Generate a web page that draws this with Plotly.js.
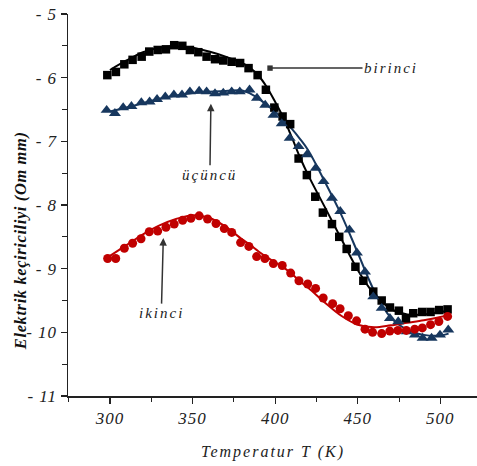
<!DOCTYPE html>
<html>
<head>
<meta charset="utf-8">
<script src="https://cdn.plot.ly/plotly-3.0.1.min.js"></script>
<style>
html,body{margin:0;padding:0;background:#fff;}
#chart{width:477px;height:466px;}
.annotation-text{letter-spacing:2px;}
.annotation[data-index="4"] .annotation-text{letter-spacing:0.6px;}
.xtick text,.ytick text{letter-spacing:1px;}
</style>
</head>
<body>
<div id="chart"></div>
<script>
// ---- data ----
const birinciT = [298.4,303.6,308.7,313.7,319.2,323.8,328.9,333.9,338.9,343.8,348.4,353.5,358.5,363.6,368.6,373.7,378.8,383.9,389.4,394.4,399.5,404.5,409.1,414.2,419.2,424.3,428.9,434.4,438.8,443.3,448.6,453.4,459.4,464.5,469.5,474.9,479.2,483.6,489.0,494.1,499.3,504.4];
const birinciY = [-5.96,-5.91,-5.79,-5.72,-5.67,-5.59,-5.565,-5.555,-5.49,-5.50,-5.565,-5.60,-5.67,-5.71,-5.73,-5.75,-5.77,-5.85,-5.96,-6.19,-6.47,-6.61,-6.73,-7.27,-7.53,-7.87,-8.12,-8.30,-8.50,-8.69,-8.97,-9.19,-9.36,-9.50,-9.61,-9.66,-9.78,-9.70,-9.68,-9.68,-9.65,-9.64];

const ucuncuT = [298,303,308,313,319,324,328.5,333.5,338.7,343.6,348.4,354,358.5,363.6,368.6,373.7,378.6,384.5,389,394,399,404,408.8,414.2,419.2,424.6,429.3,434.4,439.4,445,449.5,454.4,459.4,464.5,469.5,474.5,479.6,484.6,489.3,494.7,499.8,504.8];
const ucuncuY = [-6.51,-6.56,-6.47,-6.45,-6.39,-6.38,-6.34,-6.30,-6.27,-6.27,-6.22,-6.21,-6.22,-6.25,-6.24,-6.22,-6.22,-6.19,-6.32,-6.43,-6.59,-6.72,-6.95,-7.08,-7.21,-7.42,-7.63,-7.89,-8.10,-8.39,-8.75,-9.05,-9.44,-9.62,-9.78,-9.83,-9.99,-10.04,-10.09,-10.09,-10.04,-9.96];

const ikinciT = [298.6,303.5,308.7,313.7,318.8,323.8,328.9,333.9,338.9,344,349,354,359.1,364.2,369.2,373.7,379.1,384.1,388.8,393.8,398.9,404.3,409.4,414.4,419.7,424.5,429.1,434.8,439.3,444.3,449.3,454.4,459,464.5,469.4,474.3,479.4,484.5,489.1,494.1,499.1,504.4];
const ikinciY = [-8.84,-8.84,-8.68,-8.60,-8.53,-8.42,-8.41,-8.35,-8.30,-8.24,-8.21,-8.17,-8.22,-8.29,-8.37,-8.43,-8.59,-8.65,-8.81,-8.84,-8.92,-8.95,-9.07,-9.19,-9.24,-9.31,-9.46,-9.55,-9.63,-9.74,-9.82,-9.95,-10.0,-10.02,-9.98,-9.97,-9.97,-9.95,-9.93,-9.88,-9.83,-9.75];

// fitted curves
const fitT = [300,310,320,330,340,350,360,370,380,385,390,395,400,405,410,415,420,430,440,450,460,470,480,490,500,505];
const fitBirinci = [-5.88,-5.73,-5.6,-5.53,-5.51,-5.53,-5.59,-5.67,-5.77,-5.85,-5.97,-6.15,-6.38,-6.63,-6.93,-7.25,-7.53,-8.03,-8.53,-9.02,-9.4,-9.63,-9.72,-9.72,-9.68,-9.66];
const fitUcuncu = [-6.53,-6.47,-6.40,-6.33,-6.28,-6.24,-6.22,-6.21,-6.20,-6.25,-6.33,-6.43,-6.53,-6.66,-6.80,-6.96,-7.14,-7.63,-8.15,-8.75,-9.35,-9.77,-9.96,-10.04,-10.05,-10.02];
const fitIkinci = [-8.8,-8.63,-8.46,-8.32,-8.22,-8.16,-8.2,-8.34,-8.54,-8.63,-8.73,-8.82,-8.9,-8.98,-9.08,-9.2,-9.3,-9.53,-9.74,-9.88,-9.92,-9.89,-9.85,-9.81,-9.76,-9.73];

const yTickVals = [-11,-10,-9,-8,-7,-6,-5];
const yTickText = ['- 11','- 10','- 9','- 8','- 7','- 6','- 5'];
const xTickVals = [300,350,400,450,500];
const xTickText = ['300','350','400','450','500'];

const seriesLabels = ['birinci','ikinci','üçüncü'];
const xTitle = 'Temperatur T (K)';
const yTitle = 'Elektrik keçiriciliyi (Om mm)';

// ---- styles ----
const cBlack = '#000000', cBlue = '#17375E', cRed = '#C00000';
const tickFont = {family:'Liberation Serif, serif', size:17, color:'#222', style:'italic'};

const traces = [
  {x:fitT, y:fitBirinci, mode:'lines', line:{color:cBlack,width:2,shape:'spline'}, hoverinfo:'skip'},
  {x:fitT, y:fitUcuncu, mode:'lines', line:{color:cBlue,width:2,shape:'spline'}, hoverinfo:'skip'},
  {x:fitT, y:fitIkinci, mode:'lines', line:{color:cRed,width:2,shape:'spline'}, hoverinfo:'skip'},
  {x:birinciT, y:birinciY, mode:'markers', name:seriesLabels[0], marker:{symbol:'square',size:8.5,color:cBlack}},
  {x:ucuncuT, y:ucuncuY, mode:'markers', name:seriesLabels[2], marker:{symbol:'triangle-up',size:10.5,color:cBlue}},
  {x:ikinciT, y:ikinciY, mode:'markers', name:seriesLabels[1], marker:{symbol:'circle',size:9,color:cRed}}
];

const annFont = {family:'Liberation Serif, serif', size:15, color:'#222', style:'italic'};
const layout = {
  width:477, height:466,
  margin:{l:68, r:0, t:14, b:70},
  paper_bgcolor:'#fff', plot_bgcolor:'#fff',
  showlegend:false,
  xaxis:{
    range:[274.6,522.2], showgrid:false, zeroline:false,
    showline:true, linecolor:'#222', linewidth:1.5,
    ticks:'outside', ticklen:6, tickwidth:1.2, tickcolor:'#222',
    tickvals:xTickVals, ticktext:xTickText, tickfont:tickFont,
    minor:{dtick:25, tick0:275, ticks:'outside', ticklen:4, tickcolor:'#222', tickwidth:1},
    fixedrange:true
  },
  yaxis:{
    range:[-11,-5], showgrid:false, zeroline:false,
    showline:true, linecolor:'#222', linewidth:1.5,
    ticks:'outside', ticklen:6, tickwidth:1.2, tickcolor:'#222',
    tickvals:yTickVals, ticktext:yTickText, tickfont:tickFont,
    minor:{dtick:0.5, tick0:-11, ticks:'outside', ticklen:5, tickcolor:'#222', tickwidth:1},
    fixedrange:true
  },
  annotations:[
    {x:396.9, y:-5.85, xref:'x', yref:'y', text:seriesLabels[0], showarrow:true,
     arrowhead:7, arrowsize:0.9, arrowwidth:1.5, arrowcolor:'#333', ax:121, ay:0, font:annFont},
    {x:361.1, y:-6.41, xref:'x', yref:'y', text:seriesLabels[2], showarrow:true,
     arrowhead:2, arrowsize:1, arrowwidth:1.5, arrowcolor:'#333', ax:-1, ay:71, font:annFont},
    {x:332.3, y:-8.52, xref:'x', yref:'y', text:seriesLabels[1], showarrow:true,
     arrowhead:2, arrowsize:1, arrowwidth:1.5, arrowcolor:'#333', ax:-2, ay:75, font:annFont},
    {x:0.501, y:-0.1466, xref:'paper', yref:'paper', xanchor:'center', yanchor:'middle',
     text:xTitle, showarrow:false, font:{family:'Liberation Serif, serif', size:16, color:'#222', style:'italic'}},
    {x:-0.117, y:0.405, xref:'paper', yref:'paper', xanchor:'center', yanchor:'middle', textangle:-90,
     text:'<b>'+yTitle+'</b>', showarrow:false, font:{family:'Liberation Serif, serif', size:16.5, color:'#111', style:'italic'}}
  ]
};

Plotly.newPlot('chart', traces, layout, {staticPlot:true, displayModeBar:false});
</script>
</body>
</html>
